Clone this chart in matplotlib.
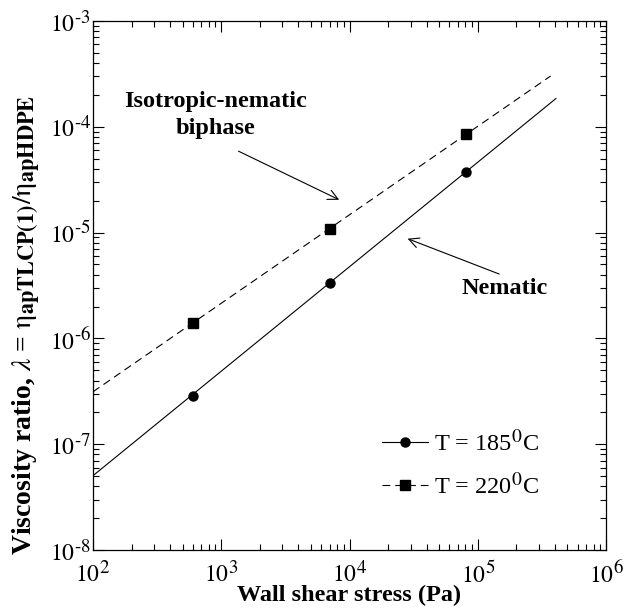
import math
import matplotlib
matplotlib.use("Agg")
import matplotlib.pyplot as plt
import matplotlib._mathtext as _mt
from matplotlib.ticker import FuncFormatter

plt.rcParams['font.family'] = ['Liberation Serif', 'DejaVu Serif']
plt.rcParams['mathtext.fontset'] = 'stix'
# larger super/subscripts than the mathtext default (0.7)
_mt.SHRINK_FACTOR = 0.8

# measured points
stress = [600, 7050, 80500]
ratio_185 = [2.86e-7, 3.34e-6, 3.74e-5]
ratio_220 = [1.39e-6, 1.08e-5, 8.55e-5]

# power-law fit lines (end points)
fit_x_185 = [100, 4.07e5]
fit_y_185 = [5.04e-8, 1.85e-4]
fit_x_220 = [100, 3.7e5]
fit_y_220 = [3.13e-7, 3.02e-4]

labels = [r'T = 185$^{\mathrm{0}}$C', r'T = 220$^{\mathrm{0}}$C']


def pow10(v, pos):
    # 10^n with a plain hyphen for negative exponents
    n = int(round(math.log10(v)))
    return r'$10^{\text{%d}}$' % n


fig = plt.figure(figsize=(6.24, 6.11), dpi=100)
ax = fig.add_axes([93 / 624, 61 / 611, 513 / 624, 529 / 611])

dash = (0, (7, 4.5))
ax.plot(fit_x_185, fit_y_185, color='black', lw=0.8)
ax.plot(fit_x_220, fit_y_220, color='black', lw=0.8, linestyle=dash)
ax.plot(stress, ratio_185, 'o', color='black', ms=6.5)
ax.plot(stress, ratio_220, 's', color='black', ms=6.5)

# legend handles: line + marker together
h1, = ax.plot([], [], '-o', color='black', lw=0.8, ms=6.5)
h2, = ax.plot([], [], 's', color='black', lw=0.8, ms=6.5, linestyle=dash)
ax.legend([h1, h2], labels, loc='center left', bbox_to_anchor=(0.563, 0.162),
          frameon=False, fontsize=17.5, handlelength=1.9, handletextpad=0.25,
          labelspacing=0.7, borderpad=0, borderaxespad=0)

ax.set_xscale('log')
ax.set_yscale('log')
ax.set_xlim(1e2, 1e6)
ax.set_ylim(1e-8, 1e-3)
ax.xaxis.set_major_formatter(FuncFormatter(pow10))
ax.yaxis.set_major_formatter(FuncFormatter(pow10))

ax.tick_params(which='both', direction='in', top=True, right=True, width=0.8)
ax.tick_params(which='major', length=8, labelsize=17)
ax.tick_params(axis='x', which='major', pad=8)
ax.tick_params(axis='y', which='major', pad=1.5)
ax.tick_params(which='minor', length=4)
for s in ax.spines.values():
    s.set_linewidth(0.9)

ax.set_xlabel('Wall shear stress (Pa)', fontsize=17.5, fontweight='bold', labelpad=-2.5)
ax.set_ylabel(r'Viscosity ratio, $\lambda$ = $\mathrm{\eta}_{\mathbf{apTLCP(1)}}$/$\mathrm{\eta}_{\mathbf{apHDPE}}$',
              fontsize=20, fontweight='bold')
ax.yaxis.set_label_coords(-0.1, 0.425)

# annotations
ax.text(910, 1.3e-4, 'Isotropic-nematic\nbiphase', fontsize=17.5, fontweight='bold',
        ha='center', va='center', linespacing=1.35)
ax.annotate('', xy=(8690, 1.99e-5), xytext=(1303, 6.04e-5),
            arrowprops=dict(arrowstyle='->', lw=0.8, color='black', mutation_scale=18))
ax.text(1.63e5, 2.99e-6, 'Nematic', fontsize=17.5, fontweight='bold',
        ha='center', va='center')
ax.annotate('', xy=(2.71e4, 8.95e-6), xytext=(1.54e5, 3.97e-6),
            arrowprops=dict(arrowstyle='->', lw=0.8, color='black', mutation_scale=18))

fig.savefig('out.png', dpi=100)
